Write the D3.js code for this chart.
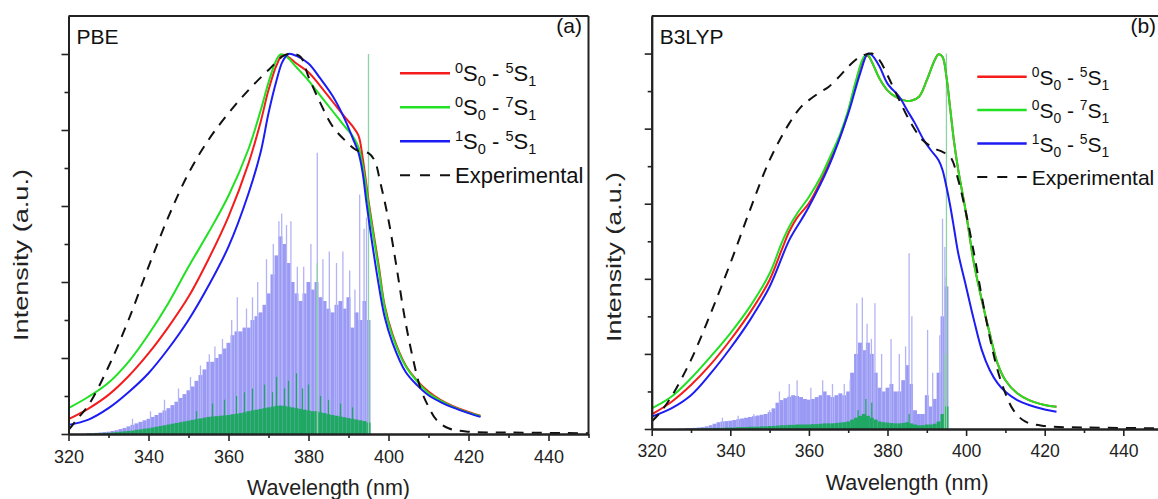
<!DOCTYPE html>
<html><head><meta charset="utf-8">
<script src="https://cdn.jsdelivr.net/npm/d3@7"></script>
<style>body{margin:0;background:#fff;} svg{display:block;font-family:"Liberation Sans",Arial,sans-serif;}</style>
</head><body><svg id="c" width="1158" height="499"></svg>
<script>
// ---------- ticks ----------
const xTicksMajor=[320,340,360,380,400,420,440];
const xTicksMinor=[330,350,370,390,410,430,450];
const yTicksMajor=[0,0.2,0.4,0.6,0.8,1.0];
const yTicksMinor=[0.1,0.3,0.5,0.7,0.9];
const legendNames=[["0","S","0","5","S","1"],["0","S","0","7","S","1"],["1","S","0","5","S","1"]];
const panelNames=["PBE","B3LYP"];
const panelTags=["(a)","(b)"];

// ---------- PBE (a) curves: [wavelength nm, intensity] ----------
const pbeRed=[[320,0.039],[325,0.067],[330,0.103],[335,0.152],[340,0.212],[345,0.282],[350,0.361],[355,0.46],[360,0.572],[365,0.712],[368,0.82],[370,0.905],[372,0.97],[373.5,0.998],[375,0.992],[377,0.975],[380,0.952],[383,0.915],[386,0.875],[389,0.835],[391,0.81],[392.5,0.785],[393.5,0.73],[395.2,0.6],[397.6,0.44],[399,0.34],[401,0.262],[404.3,0.18],[407.2,0.14],[410,0.112],[413,0.09],[416,0.074],[420,0.058],[423,0.048]];
const pbeGreen=[[320,0.068],[325,0.098],[330,0.135],[335,0.19],[340,0.262],[345,0.345],[350,0.44],[355,0.53],[360,0.627],[365,0.75],[368,0.85],[370,0.925],[372,0.985],[373,0.999],[374.5,0.993],[377,0.965],[380,0.93],[383,0.89],[386,0.85],[389,0.81],[391,0.785],[392.5,0.755],[393.5,0.71],[395.2,0.59],[397.6,0.43],[399,0.335],[401,0.258],[404.3,0.178],[407.2,0.138],[410,0.108],[413,0.088],[416,0.072],[420,0.056],[423,0.047]];
const pbeBlue=[[320,0.024],[325,0.038],[330,0.068],[335,0.11],[340,0.16],[345,0.225],[350,0.3],[355,0.39],[360,0.493],[365,0.633],[368,0.74],[370,0.844],[372,0.93],[373.5,0.98],[375,1.0],[377,0.995],[380,0.975],[383,0.935],[386,0.89],[389,0.83],[391,0.78],[392.5,0.74],[393.5,0.69],[394.6,0.6],[397.2,0.415],[399,0.31],[401,0.24],[404.3,0.163],[407.2,0.128],[410,0.102],[413,0.084],[416,0.07],[420,0.055],[423,0.045]];
const pbeExp=[[320,0.01],[322,0.037],[325,0.076],[330,0.177],[335,0.3],[340,0.44],[345,0.572],[350,0.686],[355,0.774],[360,0.844],[365,0.905],[370,0.958],[374,0.997],[376,1.0],[378,0.993],[380,0.94],[383,0.87],[386,0.81],[389,0.774],[392,0.747],[395,0.739],[396.5,0.72],[398,0.66],[400,0.563],[402,0.44],[404,0.309],[406,0.204],[408,0.12],[410,0.072],[412,0.037],[415,0.015],[420,0.006],[430,0.004],[450,0.002]];

// ---------- B3LYP (b) curves ----------
const b3Red=[[320,0.039],[325,0.072],[330,0.117],[335,0.172],[340,0.237],[345,0.31],[350,0.397],[353,0.475],[355,0.526],[357,0.563],[360,0.601],[363,0.66],[365,0.707],[368,0.78],[370,0.845],[372,0.925],[374,0.988],[375,0.994],[376,0.978],[378,0.933],[380,0.902],[382,0.885],[384,0.876],[386,0.874],[388,0.885],[390,0.929],[392,0.982],[393,0.998],[394,0.991],[395,0.938],[396,0.849],[397,0.76],[398,0.69],[400,0.574],[402,0.441],[404,0.343],[406,0.255],[408,0.175],[410,0.13],[413,0.095],[416,0.077],[420,0.064],[423,0.059]];
const b3Green=[[320,0.055],[325,0.086],[330,0.135],[335,0.193],[340,0.255],[345,0.326],[350,0.414],[353,0.494],[355,0.539],[357,0.574],[360,0.618],[363,0.671],[365,0.716],[368,0.787],[370,0.849],[372,0.929],[374,0.991],[375,0.996],[376,0.978],[378,0.933],[380,0.902],[382,0.885],[384,0.876],[386,0.874],[388,0.885],[390,0.929],[392,0.982],[393,0.998],[394,0.991],[395,0.938],[396,0.849],[397,0.76],[398,0.69],[400,0.574],[402,0.441],[404,0.343],[406,0.255],[408,0.175],[410,0.13],[413,0.095],[416,0.077],[420,0.064],[423,0.059]];
const b3Blue=[[320,0.033],[325,0.055],[330,0.09],[335,0.148],[340,0.215],[345,0.29],[350,0.379],[355,0.503],[358,0.556],[360,0.592],[365,0.698],[370,0.84],[373,0.946],[375,1.0],[376,0.996],[378,0.965],[380,0.92],[383,0.885],[385,0.849],[387,0.814],[389,0.774],[391,0.743],[393,0.716],[394,0.69],[395,0.645],[396,0.592],[397,0.53],[398,0.468],[400,0.379],[402,0.29],[404,0.21],[406,0.157],[408,0.122],[410,0.099],[413,0.077],[416,0.064],[420,0.052],[423,0.046]];
const b3Exp=[[320,0.02],[322,0.042],[325,0.086],[330,0.184],[335,0.308],[340,0.441],[345,0.583],[350,0.716],[355,0.814],[358,0.858],[360,0.876],[363,0.898],[365,0.911],[368,0.942],[370,0.965],[373,0.991],[376,1.0],[378,0.982],[380,0.942],[383,0.876],[386,0.814],[389,0.769],[392,0.747],[394,0.738],[396,0.725],[398,0.663],[400,0.574],[402,0.468],[404,0.352],[406,0.246],[408,0.157],[410,0.095],[412,0.051],[415,0.02],[420,0.008],[430,0.004],[450,0.002]];

// ---------- stick spectra (1 nm bins) ----------
const stickWl=[325,326,327,328,329,330,331,332,333,334,335,336,337,338,339,340,341,342,343,344,345,346,347,348,349,350,351,352,353,354,355,356,357,358,359,360,361,362,363,364,365,366,367,368,369,370,371,372,373,374,375,376,377,378,379,380,381,382,383,384,385,386,387,388,389,390,391,392,393,394,395];
const pbeBlueSticks=[0.002,0.002,0.003,0.004,0.005,0.006,0.008,0.01,0.013,0.016,0.02,0.024,0.028,0.032,0.036,0.04,0.045,0.05,0.056,0.062,0.068,0.076,0.085,0.095,0.105,0.115,0.125,0.14,0.155,0.17,0.19,0.19,0.2,0.21,0.225,0.24,0.26,0.27,0.27,0.28,0.28,0.3,0.31,0.32,0.34,0.37,0.42,0.47,0.52,0.5,0.45,0.4,0.37,0.35,0.37,0.4,0.38,0.4,0.36,0.35,0.33,0.32,0.34,0.35,0.33,0.36,0.28,0.32,0.3,0.35,0.3];
const pbeGreenSticks=[0.001,0.001,0.002,0.002,0.003,0.003,0.004,0.005,0.006,0.007,0.008,0.009,0.011,0.012,0.014,0.015,0.017,0.019,0.021,0.023,0.025,0.027,0.029,0.031,0.033,0.035,0.037,0.039,0.041,0.043,0.045,0.046,0.047,0.048,0.049,0.05,0.052,0.053,0.055,0.057,0.06,0.062,0.064,0.066,0.068,0.07,0.072,0.074,0.075,0.074,0.072,0.07,0.068,0.066,0.064,0.062,0.06,0.06,0.057,0.055,0.052,0.05,0.048,0.046,0.044,0.042,0.04,0.038,0.036,0.034,0.03];
const pbeBlueSpikes=[[336,0.04],[340.5,0.06],[344,0.09],[347.5,0.12],[350.5,0.15],[353,0.18],[355.2,0.21],[356.6,0.23],[358.5,0.25],[360.8,0.3],[362.2,0.36],[364.5,0.33],[366,0.36],[367.3,0.4],[369.5,0.46],[371.2,0.5],[372.6,0.56],[373.3,0.58],[374.5,0.55],[375.6,0.56],[377.2,0.44],[378.8,0.44],[380.6,0.5],[382.2,0.74],[383.6,0.46],[385.2,0.48],[387,0.45],[388.6,0.48],[390.3,0.43],[391.6,0.38],[392.8,0.63],[393.9,0.54],[394.5,0.57]];
const pbeGreenSpikes=[[352,0.06],[356,0.08],[359,0.09],[362,0.1],[364,0.11],[366,0.12],[369,0.13],[371,0.11],[372,0.15],[374,0.12],[375,0.14],[377,0.16],[378.5,0.12],[380,0.13],[383,0.1],[385,0.09],[388,0.08],[391,0.07]];
const pbeGreenTall=[[382.2,0.45],[395,1.0]];

const b3BlueSticks=[0,0,0.001,0.001,0.002,0.002,0.003,0.004,0.005,0.007,0.01,0.014,0.018,0.02,0.021,0.022,0.024,0.026,0.028,0.03,0.032,0.034,0.036,0.038,0.04,0.045,0.055,0.07,0.077,0.082,0.086,0.09,0.088,0.085,0.08,0.078,0.08,0.085,0.09,0.1,0.09,0.085,0.09,0.095,0.09,0.1,0.15,0.2,0.23,0.21,0.23,0.2,0.15,0.11,0.1,0.11,0.12,0.1,0.1,0.13,0.17,0.12,0.05,0.04,0.04,0.09,0.06,0.08,0.15,0.3,0.38];
const b3GreenSticks=[0,0,0,0,0.001,0.001,0.001,0.001,0.002,0.002,0.002,0.003,0.003,0.003,0.004,0.004,0.004,0.005,0.005,0.005,0.006,0.006,0.006,0.007,0.007,0.008,0.008,0.009,0.01,0.01,0.011,0.011,0.012,0.012,0.012,0.012,0.013,0.013,0.014,0.015,0.015,0.015,0.016,0.017,0.018,0.02,0.025,0.03,0.035,0.04,0.035,0.03,0.025,0.02,0.018,0.017,0.016,0.015,0.015,0.016,0.018,0.015,0.012,0.01,0.01,0.012,0.012,0.014,0.02,0.04,0.06];
const b3BlueSpikes=[[338,0.03],[342,0.035],[346,0.04],[350,0.05],[352.5,0.1],[355,0.12],[357,0.13],[360.5,0.11],[363.5,0.13],[366,0.12],[369,0.12],[370.5,0.13],[372.2,0.335],[373.6,0.35],[374.8,0.28],[375.9,0.24],[376.8,0.335],[378.5,0.2],[380.9,0.24],[383,0.2],[384.6,0.22],[385.5,0.468],[386.2,0.3],[390.2,0.264],[391.5,0.15],[393.3,0.25],[394,0.56],[394.6,0.485],[394.9,0.405]];
const b3GreenSpikes=[[372.5,0.05],[374.5,0.08],[376,0.07],[385.5,0.04]];
const b3GreenTall=[[394.5,0.2],[395,1.0]];

// ---------- drawing ----------
const svg=d3.select("#c");
const C={red:"#f41c1c",green:"#22e022",blue:"#1c1cf4",exp:"#111",axis:"#222",
         bSt:"#9a9af5",gSt:"#1fa862",bSp:"#b3b3f7",gTall:"#8dd3a6"};

function drawPanel(p){
  const x=d3.scaleLinear().domain([320,450]).range([p.left,p.right]);
  const y=d3.scaleLinear().domain([0,1.1]).range([p.bottom,p.top]);
  const g=svg.append("g");
  const cid="clip"+p.idx;
  svg.append("clipPath").attr("id",cid).append("rect")
     .attr("x",p.left).attr("y",p.top).attr("width",p.right-p.left).attr("height",p.bottom-p.top);
  const plot=g.append("g").attr("clip-path",`url(#${cid})`);

  // sticks
  const bins=stickWl.map((w,i)=>({w,b:p.bSt[i],g:p.gSt[i]}));
  plot.append("g").selectAll("rect").data(bins).join("rect")
    .attr("x",d=>x(d.w-0.5)).attr("width",d=>x(d.w+0.5)-x(d.w-0.5))
    .attr("y",d=>y(d.b)).attr("height",d=>y(0)-y(d.b)).attr("fill",C.bSt);
  plot.append("g").selectAll("line").data(p.bSp).join("line")
    .attr("x1",d=>x(d[0])).attr("x2",d=>x(d[0])).attr("y1",y(0)).attr("y2",d=>y(d[1]))
    .attr("stroke",C.bSp).attr("stroke-width",1.3);
  plot.append("g").selectAll("rect").data(bins).join("rect")
    .attr("x",d=>x(d.w-0.5)).attr("width",d=>x(d.w+0.5)-x(d.w-0.5))
    .attr("y",d=>y(d.g)).attr("height",d=>y(0)-y(d.g)).attr("fill",C.gSt);
  plot.append("g").selectAll("line").data(p.gSp).join("line")
    .attr("x1",d=>x(d[0])).attr("x2",d=>x(d[0])).attr("y1",y(0)).attr("y2",d=>y(d[1]))
    .attr("stroke",C.gSt).attr("stroke-width",1.2);
  plot.append("g").selectAll("line").data(p.gTall).join("line")
    .attr("x1",d=>x(d[0])).attr("x2",d=>x(d[0])).attr("y1",y(0)).attr("y2",d=>y(d[1]))
    .attr("stroke",C.gTall).attr("stroke-width",1.3);

  const line=d3.line().x(d=>x(d[0])).y(d=>y(d[1])).curve(d3.curveCatmullRom.alpha(0.5));
  [[p.red,C.red],[p.green,C.green],[p.blue,C.blue]].forEach(([d,c])=>{
    plot.append("path").datum(d).attr("d",line).attr("fill","none").attr("stroke",c).attr("stroke-width",2);
  });
  plot.append("path").datum(p.exp).attr("d",line).attr("fill","none").attr("stroke",C.exp)
      .attr("stroke-width",2).attr("stroke-dasharray","10,8");

  // axes
  const ax=g.append("g").attr("transform",`translate(0,${p.bottom})`)
    .call(d3.axisBottom(x).tickValues(xTicksMajor).tickSize(7).tickSizeOuter(0).tickPadding(9).tickFormat(d3.format("d")));
  const axm=g.append("g").attr("transform",`translate(0,${p.bottom})`)
    .call(d3.axisBottom(x).tickValues(xTicksMinor).tickSize(4).tickSizeOuter(0).tickFormat(""));
  const ay=g.append("g").attr("transform",`translate(${p.left},0)`)
    .call(d3.axisLeft(y).tickValues(yTicksMajor).tickSize(7).tickSizeOuter(0).tickFormat(""));
  const aym=g.append("g").attr("transform",`translate(${p.left},0)`)
    .call(d3.axisLeft(y).tickValues(yTicksMinor).tickSize(4).tickSizeOuter(0).tickFormat(""));
  [ax,axm,ay,aym].forEach(a=>{
    a.selectAll("path").attr("stroke",C.axis).attr("stroke-width",2);
    a.selectAll("line").attr("stroke",C.axis).attr("stroke-width",1.6);
  });
  ax.selectAll("text").attr("font-size",p.tfs).attr("fill","#222").attr("font-family","Liberation Sans, Arial, sans-serif");
  // frame top/right
  g.append("line").attr("x1",p.left).attr("x2",p.right).attr("y1",p.top).attr("y2",p.top).attr("stroke",C.axis).attr("stroke-width",2);
  g.append("line").attr("x1",p.right).attr("x2",p.right).attr("y1",p.top).attr("y2",p.bottom).attr("stroke",C.axis).attr("stroke-width",2);

  // titles
  g.append("text").attr("x",(p.left+p.right)/2).attr("y",p.bottom+61).attr("text-anchor","middle")
    .attr("font-size",21.5).attr("fill","#222").text("Wavelength (nm)");
  g.append("text").attr("transform",`translate(${p.left-p.ylabOff},${p.ylabY}) rotate(-90)`).attr("text-anchor","middle")
    .attr("font-size",21).attr("textLength",p.ylabLen).attr("lengthAdjust","spacingAndGlyphs")
    .attr("fill","#222").text("Intensity (a.u.)");
  g.append("text").attr("x",p.left+8).attr("y",43.5).attr("font-size",21).attr("fill","#111").text(panelNames[p.idx]);
  g.append("text").attr("x",p.right-6.5).attr("y",33).attr("text-anchor","end").attr("font-size",21).attr("fill","#111").text(panelTags[p.idx]);

  // legend
  const lg=g.append("g");
  const cols=[C.red,C.green,C.blue];
  legendNames.forEach((n,i)=>{
    const ly=p.legY+i*p.legDy;
    lg.append("line").attr("x1",p.legX).attr("x2",p.legX+p.legW).attr("y1",ly).attr("y2",ly).attr("stroke",cols[i]).attr("stroke-width",2.5);
    const t=lg.append("text").attr("x",p.legX+p.legW+5).attr("y",ly+8).attr("font-size",p.lfs).attr("fill","#111");
    const s=p.lfs*0.66;
    t.append("tspan").attr("font-size",s).attr("dy",-8).text(n[0]);
    t.append("tspan").attr("dy",8).text(n[1]);
    t.append("tspan").attr("font-size",s).attr("dy",5).text(n[2]);
    t.append("tspan").attr("dy",-5).text("\u00a0-\u00a0");
    t.append("tspan").attr("font-size",s).attr("dy",-8).text(n[3]);
    t.append("tspan").attr("dy",8).text(n[4]);
    t.append("tspan").attr("font-size",s).attr("dy",5).text(n[5]);
  });
  const ly=p.legY+3*p.legDy;
  lg.append("line").attr("x1",p.legX).attr("x2",p.legX+p.legW).attr("y1",ly).attr("y2",ly).attr("stroke",C.exp).attr("stroke-width",2).attr("stroke-dasharray","10,10");
  lg.append("text").attr("x",p.legX+p.legW+5).attr("y",ly+8).attr("font-size",p.lfs).attr("fill","#111").text("Experimental");
}

drawPanel({idx:0,left:68.5,right:588.5,top:16,bottom:434,red:pbeRed,green:pbeGreen,blue:pbeBlue,exp:pbeExp,
  bSt:pbeBlueSticks,gSt:pbeGreenSticks,bSp:pbeBlueSpikes,gSp:pbeGreenSpikes,gTall:pbeGreenTall,
  legX:400,legW:50,legY:73.3,legDy:34,lfs:22,tfs:18,ylabOff:41,ylabY:255,ylabLen:172});
drawPanel({idx:1,left:651.7,right:1162.6,top:16,bottom:429,red:b3Red,green:b3Green,blue:b3Blue,exp:b3Exp,
  bSt:b3BlueSticks,gSt:b3GreenSticks,bSp:b3BlueSpikes,gSp:b3GreenSpikes,gTall:b3GreenTall,
  legX:977.3,legW:49.4,legY:76.7,legDy:33.4,lfs:21,tfs:17.6,ylabOff:31,ylabY:257,ylabLen:170});
</script></body></html>
